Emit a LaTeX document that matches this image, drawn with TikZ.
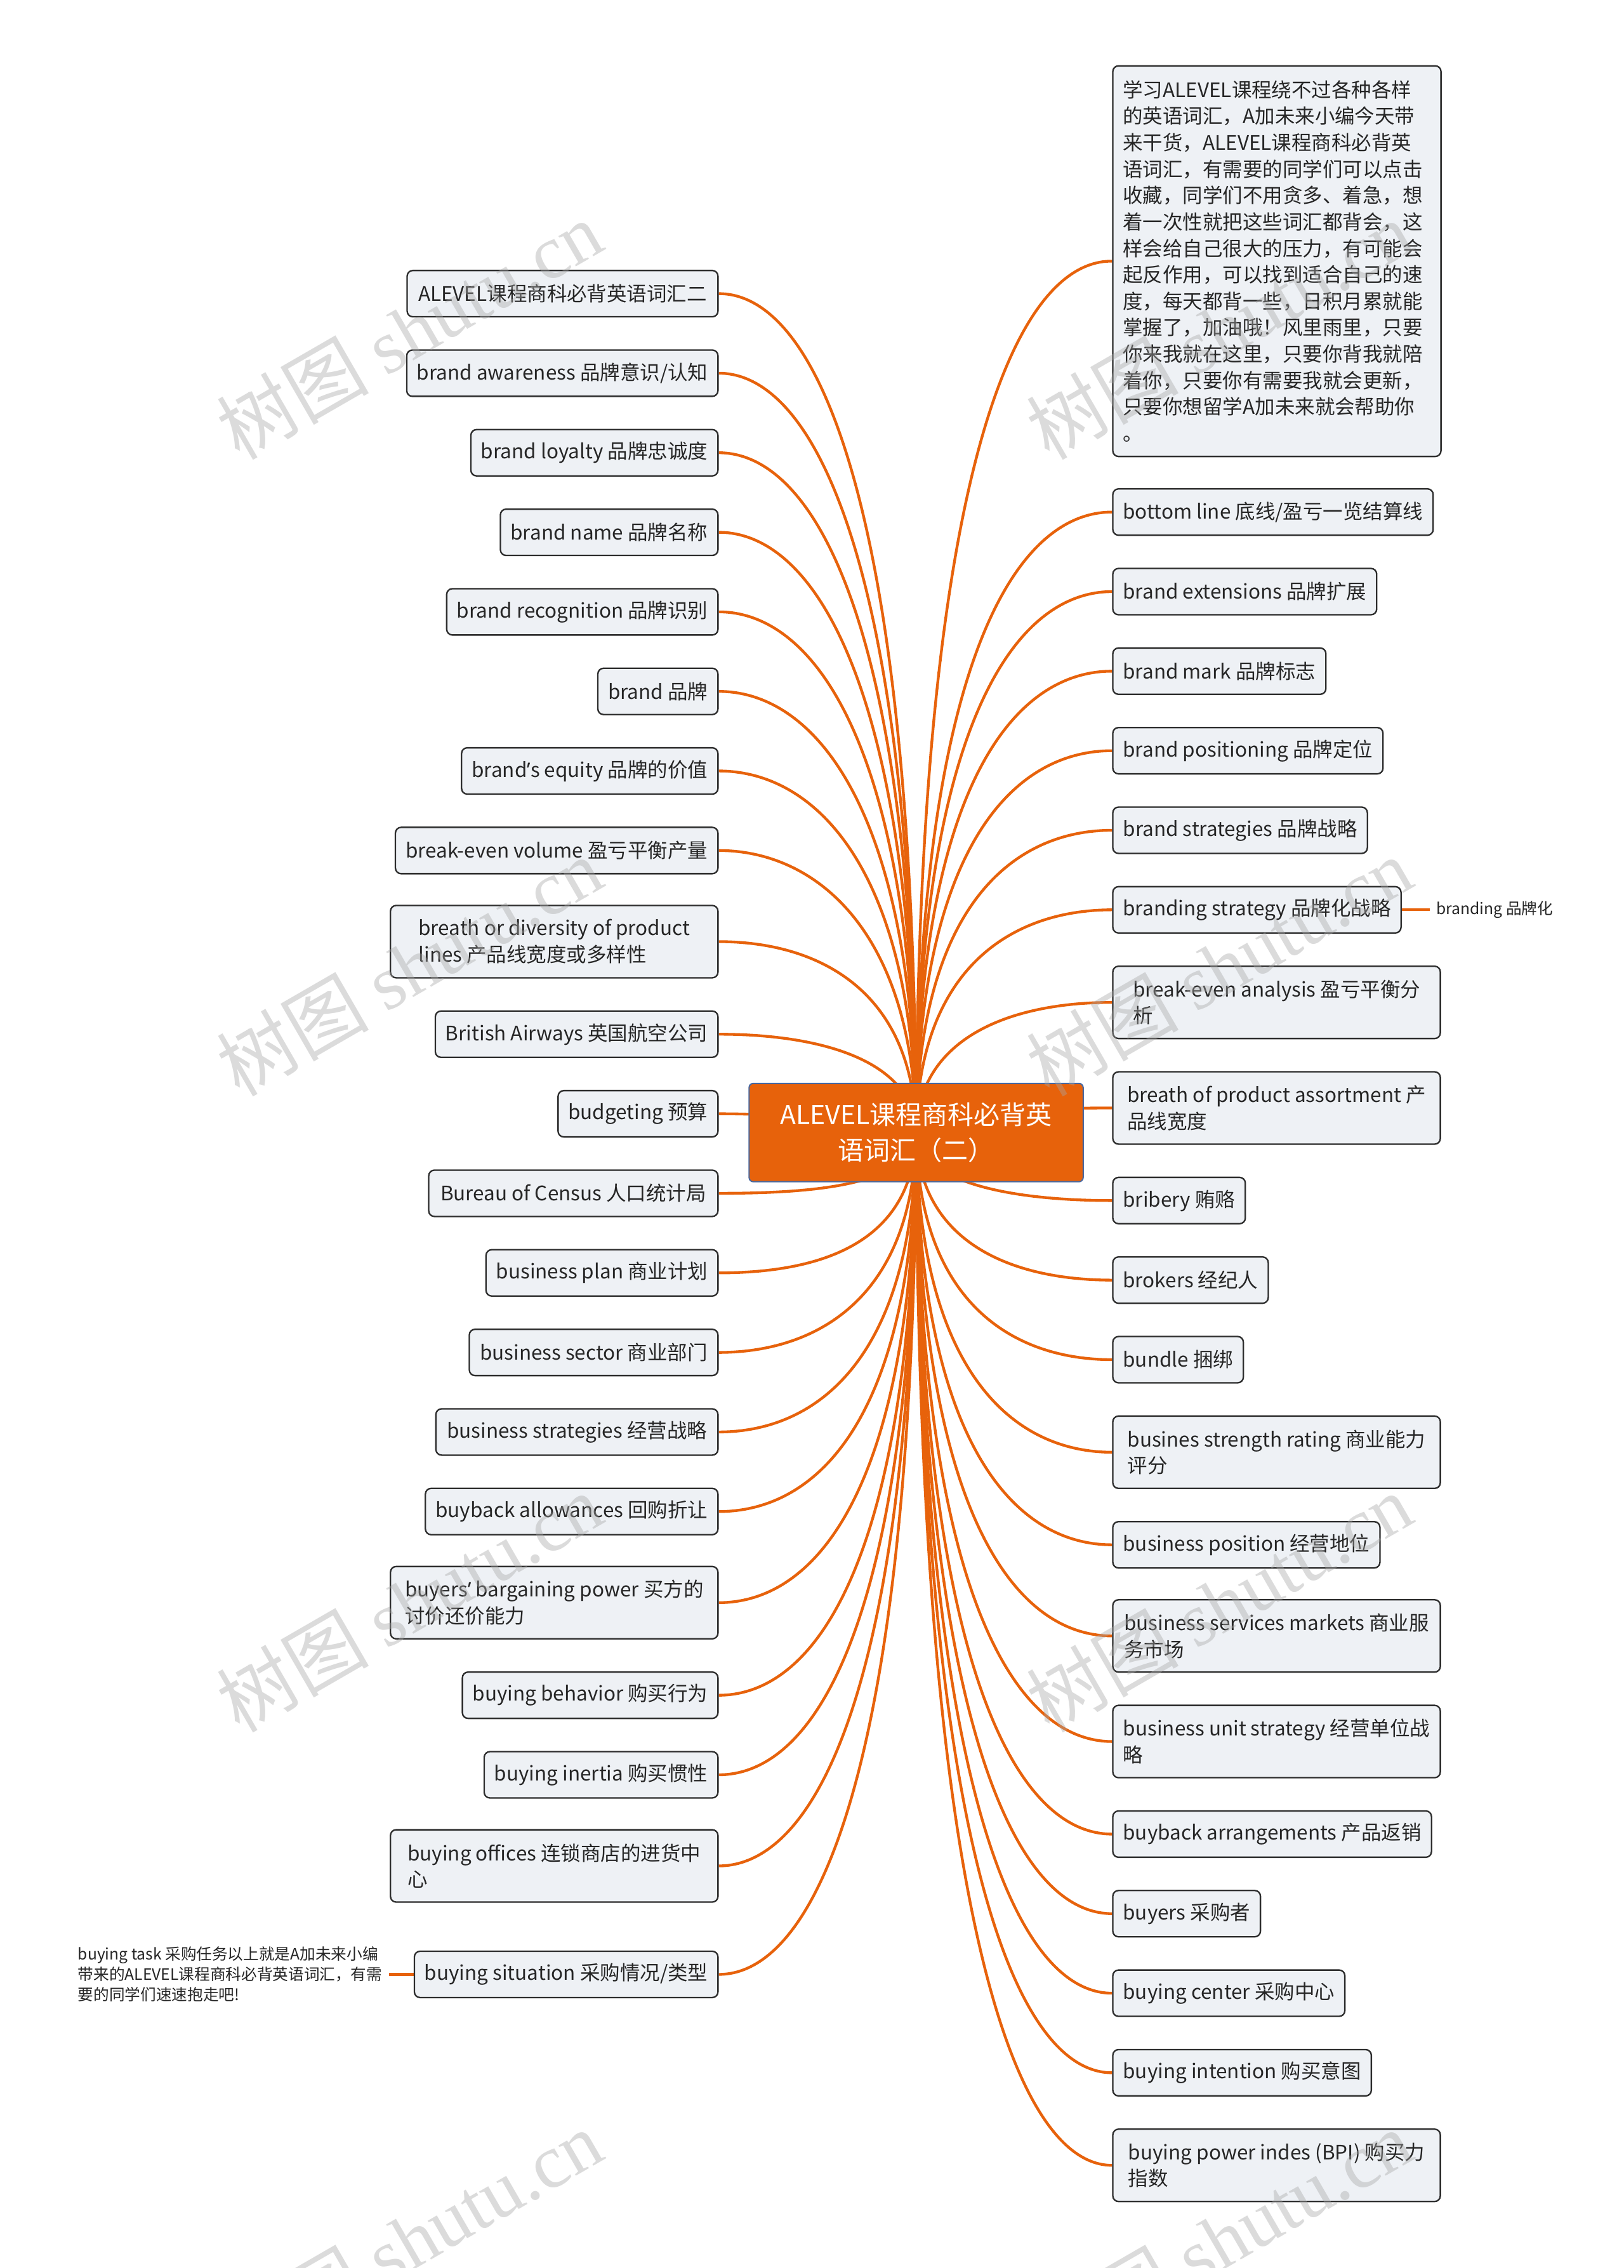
\documentclass[tikz,border=0pt]{standalone}
\usepackage{fontspec}
\setmainfont{Noto Sans CJK SC}
\newfontfamily\latinfont{Noto Sans}
\newfontfamily\wmserif{Liberation Serif}
\usetikzlibrary{positioning}
\definecolor{branchorange}{RGB}{231,98,11}
\definecolor{leafgray}{RGB}{238,241,245}
\definecolor{leafline}{RGB}{45,45,45}
\definecolor{rootline}{RGB}{72,104,160}
\pgfdeclarelayer{background}
\pgfsetlayers{background,main}

\begin{document}
\begin{tikzpicture}[x=0.6839pt, y=-0.6839pt,
    root/.style={fill=branchorange, draw=rootline, line width=0.6pt, rounded corners=2pt,
        minimum width=158pt, minimum height=46.5pt, text=white, align=center,
        font=\fontsize{12.3pt}{17pt}\selectfont},
    leaf/.style={draw=leafline, fill=leafgray, line width=0.7pt, rounded corners=2.7pt,
        inner xsep=4.8pt, inner ysep=0pt, minimum height=21.9pt, align=left, text=black!85,
        font=\fontsize{9.45pt}{12.5pt}\selectfont},
    leaftwo/.style={leaf, minimum height=34.2pt, minimum width=154.9pt},
    note/.style={inner xsep=3pt, inner ysep=0pt, align=left, text=black!85,
        font=\fontsize{7.4pt}{9.6pt}\selectfont},
    branch/.style={draw=branchorange, line width=1.3pt},
    watermark/.style={rotate=30, text=gray!70, text opacity=0.4,
        font=\fontsize{36pt}{36pt}\selectfont}]
            \useasboundingbox (0,0) rectangle (1123,1568);
            \begin{pgfonlayer}{background}
                \fill[white] (0,0) rectangle (1123,1568);
            \end{pgfonlayer}

            % centre
            \node[root] (Root) at (633.5,783) {ALEVEL课程商科必背英\\语词汇（二）};

            % left side
            \node[leaf, anchor=east, minimum width=147.0pt] (L1) at (497,203) {ALEVEL课程商科必背英语词汇二};
            \node[leaf, anchor=east, minimum width=147.0pt] (L2) at (497,258) {brand awareness 品牌意识/认知};
            \node[leaf, anchor=east, minimum width=114.9pt] (L3) at (497,313) {brand loyalty 品牌忠诚度};
            \node[leaf, anchor=east, minimum width=101.2pt] (L4) at (497,368) {brand name 品牌名称};
            \node[leaf, anchor=east, minimum width=126.5pt] (L5) at (497,423) {brand recognition 品牌识别};
            \node[leaf, anchor=east, minimum width=55.4pt] (L6) at (497,478) {brand 品牌};
            \node[leaf, anchor=east, minimum width=120.4pt] (L7) at (497,533) {brand{\latinfont ’}s equity 品牌的价值};
            \node[leaf, anchor=east, minimum width=151.8pt] (L8) at (497,588) {break-even volume 盈亏平衡产量};
            \node[leaftwo, anchor=east] (L9) at (497,651) {breath or diversity of product\\lines 产品线宽度或多样性};
            \node[leaf, anchor=east, minimum width=132.7pt] (L10) at (497,715) {British Airways 英国航空公司};
            \node[leaf, anchor=east, minimum width=74.5pt] (L11) at (497,770) {budgeting 预算};
            \node[leaf, anchor=east, minimum width=136.8pt] (L12) at (497,825) {Bureau of Census 人口统计局};
            \node[leaf, anchor=east, minimum width=108.1pt] (L13) at (497,880) {business plan 商业计划};
            \node[leaf, anchor=east, minimum width=117.6pt] (L14) at (497,935) {business sector 商业部门};
            \node[leaf, anchor=east, minimum width=133.4pt] (L15) at (497,990) {business strategies 经营战略};
            \node[leaf, anchor=east, minimum width=136.8pt] (L16) at (497,1045) {buyback allowances 回购折让};
            \node[leaftwo, anchor=east] (L17) at (497,1108) {buyers{\latinfont ’} bargaining power 买方的\\讨价还价能力};
            \node[leaf, anchor=east, minimum width=118.3pt] (L18) at (497,1172) {buying behavior 购买行为};
            \node[leaf, anchor=east, minimum width=108.1pt] (L19) at (497,1227) {buying inertia 购买惯性};
            \node[leaftwo, anchor=east] (L20) at (497,1290) {buying offices 连锁商店的进货中\\心};
            \node[leaf, anchor=east, minimum width=141.6pt] (L21) at (497,1365) {buying situation 采购情况/类型};
            \node[note, anchor=east] (BuyingTask) at (269,1365) {buying task 采购任务以上就是A加未来小编\\带来的ALEVEL课程商科必背英语词汇，有需\\要的同学们速速抱走吧!};

            % right side
            \node[leaf, anchor=north west, text width=145.6pt, minimum height=184.7pt] (R1) at (769,45)
                {学习ALEVEL课程绕不过各种各样\\的英语词汇，A加未来小编今天带\\来干货，ALEVEL课程商科必背英\\语词汇，有需要的同学们可以点击\\收藏，同学们不用贪多、着急，想\\着一次性就把这些词汇都背会，这\\样会给自己很大的压力，有可能会\\起反作用，可以找到适合自己的速\\度，每天都背一些，日积月累就能\\掌握了，加油哦！风里雨里，只要\\你来我就在这里，只要你背我就陪\\着你，只要你有需要我就会更新，\\只要你想留学A加未来就会帮助你\\。};
            \node[leaf, anchor=west, minimum width=150.5pt] (R2) at (769,354) {bottom line 底线/盈亏一览结算线};
            \node[leaf, anchor=west, minimum width=123.8pt] (R3) at (769,409) {brand extensions 品牌扩展};
            \node[leaf, anchor=west, minimum width=99.2pt] (R4) at (769,464) {brand mark 品牌标志};
            \node[leaf, anchor=west, minimum width=124.5pt] (R5) at (769,519) {brand positioning 品牌定位};
            \node[leaf, anchor=west, minimum width=120.4pt] (R6) at (769,574) {brand strategies 品牌战略};
            \node[leaf, anchor=west, minimum width=135.4pt] (R7) at (769,629) {branding strategy 品牌化战略};
            \node[note, anchor=west] (Branding) at (988.6,629) {branding 品牌化};
            \node[leaftwo, anchor=west] (R8) at (769,693) {break-even analysis 盈亏平衡分\\析};
            \node[leaftwo, anchor=west] (R9) at (769,766) {breath of product assortment 产\\品线宽度};
            \node[leaf, anchor=west, minimum width=60.2pt] (R10) at (769,830) {bribery 贿赂};
            \node[leaf, anchor=west, minimum width=73.2pt] (R11) at (769,885) {brokers 经纪人};
            \node[leaf, anchor=west, minimum width=60.2pt] (R12) at (769,940) {bundle 捆绑};
            \node[leaftwo, anchor=west] (R13) at (769,1004) {busines strength rating 商业能力\\评分};
            \node[leaf, anchor=west, minimum width=125.2pt] (R14) at (769,1068) {business position 经营地位};
            \node[leaftwo, anchor=west] (R15) at (769,1131) {business services markets 商业服\\务市场};
            \node[leaftwo, anchor=west] (R16) at (769,1204) {business unit strategy 经营单位战\\略};
            \node[leaf, anchor=west, minimum width=149.1pt] (R17) at (769,1268) {buyback arrangements 产品返销};
            \node[leaf, anchor=west, minimum width=68.4pt] (R18) at (769,1323) {buyers 采购者};
            \node[leaf, anchor=west, minimum width=109.4pt] (R19) at (769,1378) {buying center 采购中心};
            \node[leaf, anchor=west, minimum width=119.0pt] (R20) at (769,1433) {buying intention 购买意图};
            \node[leaftwo, anchor=west] (R21) at (769,1497) {buying power indes (BPI) 购买力\\指数};

            % connectors
            \begin{pgfonlayer}{background}
                \draw[branch] (Root.center) .. controls (632,348) and (565,203) .. (L1.east);
                \draw[branch] (Root.center) .. controls (632,397) and (565,258) .. (L2.east);
                \draw[branch] (Root.center) .. controls (632,438) and (565,313) .. (L3.east);
                \draw[branch] (Root.center) .. controls (632,480) and (565,368) .. (L4.east);
                \draw[branch] (Root.center) .. controls (632,521) and (565,423) .. (L5.east);
                \draw[branch] (Root.center) .. controls (632,563) and (565,478) .. (L6.east);
                \draw[branch] (Root.center) .. controls (632,603) and (565,533) .. (L7.east);
                \draw[branch] (Root.center) .. controls (632,645) and (565,588) .. (L8.east);
                \draw[branch] (Root.center) .. controls (632,684) and (565,651) .. (L9.east);
                \draw[branch] (Root.center) .. controls (632,732) and (565,715) .. (L10.east);
                \draw[branch] (Root.center) .. controls (632,780) and (565,770) .. (L11.east);
                \draw[branch] (Root.center) .. controls (632,819) and (565,825) .. (L12.east);
                \draw[branch] (Root.center) .. controls (632,861) and (565,880) .. (L13.east);
                \draw[branch] (Root.center) .. controls (632,897) and (565,935) .. (L14.east);
                \draw[branch] (Root.center) .. controls (632,939) and (565,990) .. (L15.east);
                \draw[branch] (Root.center) .. controls (632,981) and (565,1045) .. (L16.east);
                \draw[branch] (Root.center) .. controls (632,1028) and (565,1108) .. (L17.east);
                \draw[branch] (Root.center) .. controls (632,1076) and (565,1172) .. (L18.east);
                \draw[branch] (Root.center) .. controls (632,1117) and (565,1227) .. (L19.east);
                \draw[branch] (Root.center) .. controls (632,1163) and (565,1290) .. (L20.east);
                \draw[branch] (Root.center) .. controls (632,1220) and (565,1365) .. (L21.east);
                \draw[branch] (Root.center) .. controls (635,331) and (701,180) .. (R1.west);
                \draw[branch] (Root.center) .. controls (635,461) and (701,354) .. (R2.west);
                \draw[branch] (Root.center) .. controls (635,503) and (701,409) .. (R3.west);
                \draw[branch] (Root.center) .. controls (635,544) and (701,464) .. (R4.west);
                \draw[branch] (Root.center) .. controls (635,585) and (701,519) .. (R5.west);
                \draw[branch] (Root.center) .. controls (635,626) and (701,574) .. (R6.west);
                \draw[branch] (Root.center) .. controls (635,668) and (701,629) .. (R7.west);
                \draw[branch] (Root.center) .. controls (635,716) and (701,693) .. (R8.west);
                \draw[branch] (Root.center) .. controls (635,770) and (701,766) .. (R9.west);
                \draw[branch] (Root.center) .. controls (635,818) and (701,830) .. (R10.west);
                \draw[branch] (Root.center) .. controls (635,860) and (701,885) .. (R11.west);
                \draw[branch] (Root.center) .. controls (635,901) and (701,940) .. (R12.west);
                \draw[branch] (Root.center) .. controls (635,949) and (701,1004) .. (R13.west);
                \draw[branch] (Root.center) .. controls (635,997) and (701,1068) .. (R14.west);
                \draw[branch] (Root.center) .. controls (635,1044) and (701,1131) .. (R15.west);
                \draw[branch] (Root.center) .. controls (635,1099) and (701,1204) .. (R16.west);
                \draw[branch] (Root.center) .. controls (635,1147) and (701,1268) .. (R17.west);
                \draw[branch] (Root.center) .. controls (635,1188) and (701,1323) .. (R18.west);
                \draw[branch] (Root.center) .. controls (635,1229) and (701,1378) .. (R19.west);
                \draw[branch] (Root.center) .. controls (635,1271) and (701,1433) .. (R20.west);
                \draw[branch] (Root.center) .. controls (635,1319) and (701,1497) .. (R21.west);
                \draw[branch] (R7.east) -- (Branding.west);
                \draw[branch] (L21.west) -- (BuyingTask.east);
            \end{pgfonlayer}

            % watermark
            \node[watermark] (WmA) at (283,228) {树图 {\wmserif shutu.cn}};
            \node[watermark] (WmB) at (843,228) {树图 {\wmserif shutu.cn}};
            \node[watermark] (WmC) at (283,668) {树图 {\wmserif shutu.cn}};
            \node[watermark] (WmD) at (843,668) {树图 {\wmserif shutu.cn}};
            \node[watermark] (WmE) at (283,1108) {树图 {\wmserif shutu.cn}};
            \node[watermark] (WmF) at (843,1108) {树图 {\wmserif shutu.cn}};
            \node[watermark] (WmG) at (283,1548) {树图 {\wmserif shutu.cn}};
            \node[watermark] (WmH) at (843,1548) {树图 {\wmserif shutu.cn}};
\end{tikzpicture}
\end{document}
